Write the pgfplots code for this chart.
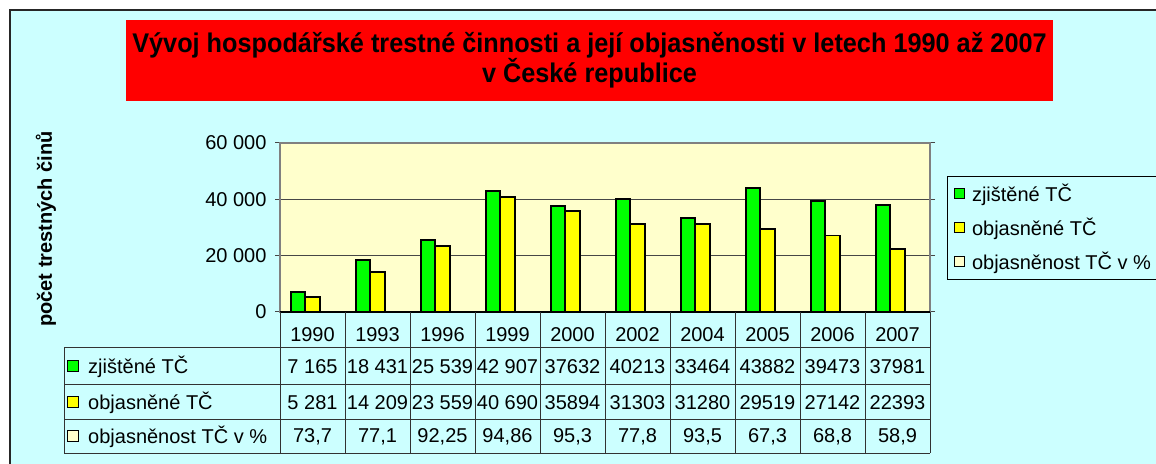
\documentclass[border=0pt]{standalone}
\usepackage{pgfplots}
\pgfplotsset{compat=1.18}
\usepackage{fontspec}
\setmainfont{Liberation Sans}
\usepackage{graphicx}
\definecolor{cyanbg}{RGB}{204,255,255}
\definecolor{plotbg}{RGB}{255,255,204}
\definecolor{greenbar}{RGB}{0,255,0}
\definecolor{yellowbar}{RGB}{255,255,0}
\definecolor{creambar}{RGB}{255,255,204}
\definecolor{titlered}{RGB}{255,0,0}
\definecolor{gridc}{RGB}{70,70,70}
\definecolor{framec}{RGB}{128,128,128}
\definecolor{tablec}{RGB}{50,50,50}
\newcommand{\fs}{\fontsize{20}{23}\selectfont}
\newcommand{\tfs}{\fontsize{27}{30}\selectfont\bfseries}
\begin{document}
\begin{tikzpicture}[x=1pt,y=1pt]
\path[use as bounding box] (0,0) rectangle (1156,463);
\fill[white] (0,0) rectangle (1156,463);
\fill[cyanbg] (10,-2) rectangle (1158,453);
\draw[line width=1.5pt, black!85] (10,-5) -- (10,453) -- (1160,453);
% title
\fill[titlered] (126,362) rectangle (1053,443);
\node[anchor=base, inner sep=0pt, font=\tfs] at (589.5,410) {\scalebox{0.936}[1]{Vývoj hospodářské trestné činnosti a její objasněnosti v letech 1990 až 2007}};
\node[anchor=base, inner sep=0pt, font=\tfs] at (589.5,380) {\scalebox{0.936}[1]{v České republice}};
% y label
\node[rotate=90, font=\bfseries\fs] at (46,234) {počet trestných činů};

\begin{axis}[
  at={(280pt,151pt)}, anchor=south west,
  scale only axis, width=650pt, height=169pt,
  xmin=-0.5, xmax=9.5, ymin=0, ymax=60000,
  scaled y ticks=false,
  axis background/.style={fill=plotbg},
  axis line style={framec, line width=1.2pt},
  ybar=0pt, bar width=14.5pt,
  xtick={0,...,9},
  xticklabels={1990,1993,1996,1999,2000,2002,2004,2005,2006,2007},
  xtick style={draw=none},
  xticklabel style={font=\fs, anchor=center, yshift=-18pt},
  ytick={0,20000,40000,60000},
  yticklabels={0,20 000,40 000,60 000},
  yticklabel style={font=\fs, xshift=-5pt},
  tick align=outside, major tick length=5pt,
  ytick style={gridc, line width=1pt},
  ymajorgrids, grid style={gridc, line width=1pt},
  clip=false,
  legend image code/.code={\draw[#1, line width=1pt] (0pt,-5pt) rectangle (10pt,5pt); \path[draw=none, fill=none] (10pt,0pt) -- (16pt,0pt);},
  legend style={at={(1.0262,0.8047)}, anchor=north west, fill=cyanbg, draw=black,
    line width=1pt, font=\fs, row sep=11pt, inner xsep=6pt, inner ysep=6pt},
  legend cell align=left,
]
\addplot[fill=greenbar, draw=black, line width=1.8pt] coordinates {
  (0,7165) (1,18431) (2,25539) (3,42907) (4,37632) (5,40213) (6,33464) (7,43882) (8,39473) (9,37981)};
\addplot[fill=yellowbar, draw=black, line width=1.8pt] coordinates {
  (0,5281) (1,14209) (2,23559) (3,40690) (4,35894) (5,31303) (6,31280) (7,29519) (8,27142) (9,22393)};
\addplot[fill=creambar, draw=black, line width=1.8pt] coordinates {
  (0,73.7) (1,77.1) (2,92.25) (3,94.86) (4,95.3) (5,77.8) (6,93.5) (7,67.3) (8,68.8) (9,58.9)};
\legend{zjištěné TČ, objasněné TČ, objasněnost TČ v \%}
\end{axis}

% data table
\begin{scope}[tablec, line width=1pt]
\draw[black, line width=1.4pt] (280,151) -- (930,151);
\draw (64,115) -- (930,115);
\draw (64,78) -- (930,78);
\draw (64,43) -- (930,43);
\draw (64,10) -- (930,10);
\draw (64,115) -- (64,10);
\foreach \k in {0,...,10} \draw ({280+65*\k},151) -- ({280+65*\k},10);
\end{scope}
\foreach \v [count=\i from 0] in {7 165,18 431,25 539,42 907,37632,40213,33464,43882,39473,37981}
  \node[font=\fs, inner sep=0pt] at ({312.5+65*\i},96.5) {\v};
\foreach \v [count=\i from 0] in {5 281,14 209,23 559,40 690,35894,31303,31280,29519,27142,22393}
  \node[font=\fs, inner sep=0pt] at ({312.5+65*\i},60.5) {\v};
\foreach \v [count=\i from 0] in {{73,7},{77,1},{92,25},{94,86},{95,3},{77,8},{93,5},{67,3},{68,8},{58,9}}
  \node[font=\fs, inner sep=0pt] at ({312.5+65*\i},26.5) {\v};
% row labels with keys
\draw[fill=greenbar, line width=1pt] (67,91) rectangle (78,102);
\node[font=\fs, anchor=base west, inner sep=0pt] at (88,89.5) {zjištěné TČ};
\draw[fill=yellowbar, line width=1pt] (67,55) rectangle (78,66);
\node[font=\fs, anchor=base west, inner sep=0pt] at (88,53.5) {objasněné TČ};
\draw[fill=creambar, line width=1pt] (67,21) rectangle (78,32);
\node[font=\fs, anchor=base west, inner sep=0pt] at (88,19.5) {objasněnost TČ v \%};
\end{tikzpicture}
\end{document}
